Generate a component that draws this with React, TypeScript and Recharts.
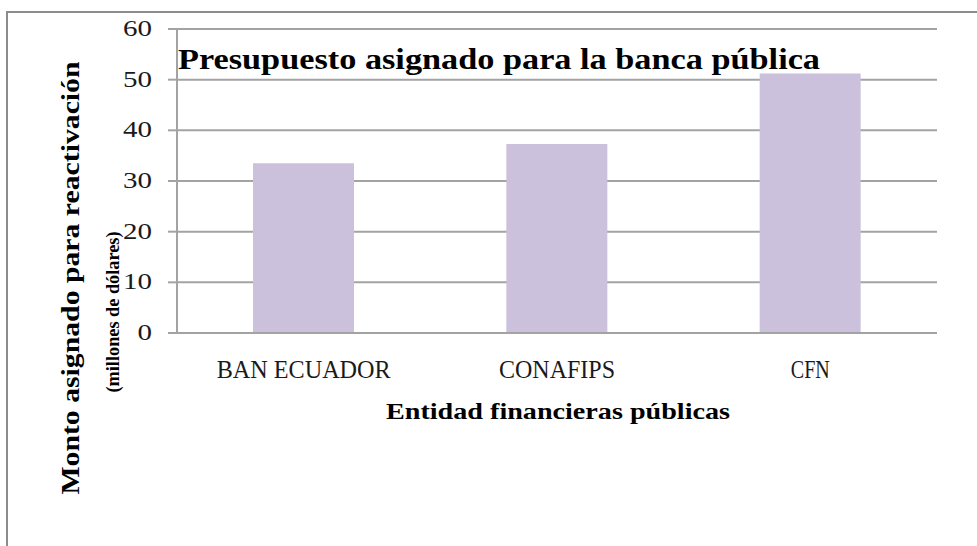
import React from "react";
import { BarChart, Bar, XAxis, YAxis, CartesianGrid } from "recharts";

const categories = ["BAN ECUADOR", "CONAFIPS", "CFN"];
const values = [33.5, 37.3, 51.2];
const yTicks = [0, 10, 20, 30, 40, 50, 60];
const title = "Presupuesto asignado para la banca pública";
const yTitle = "Monto asignado para  reactivación";
const ySubTitle = "(millones de dólares)";
const xTitle = "Entidad financieras públicas";

const data = categories.map((c, i) => ({ name: c, value: values[i] }));

const SERIF = "'Liberation Serif', 'DejaVu Serif', serif";
const GRID = "#a3a3a3";
const BAR = "#cbc1dc";

const tickWidths: Record<string, number> = { "BAN ECUADOR": 174, CONAFIPS: 116, CFN: 39 };

const XTick = (props: any) => {
  const { x, payload } = props;
  const label = String(payload.value);
  return (
    <text
      x={x}
      y={378}
      textAnchor="middle"
      fontFamily={SERIF}
      fontSize={25}
      fill="#1a1a1a"
      textLength={tickWidths[label]}
      lengthAdjust="spacingAndGlyphs"
    >
      {label}
    </text>
  );
};

const YTick = (props: any) => {
  const { x, y, payload } = props;
  return (
    <text
      x={x}
      y={y + 7}
      textAnchor="end"
      fontFamily={SERIF}
      fontSize={23}
      fill="#1a1a1a"
      textLength={String(payload.value).length * 14.5}
      lengthAdjust="spacingAndGlyphs"
    >
      {payload.value}
    </text>
  );
};

const Labels = () => (
  <g>
    <text
      x={178}
      y={69}
      fontFamily={SERIF}
      fontWeight="bold"
      fontSize={29}
      fill="#000"
      textLength={642}
      lengthAdjust="spacingAndGlyphs"
    >
      {title}
    </text>
    <text
      x={79}
      y={278}
      transform="rotate(-90, 79, 278)"
      textAnchor="middle"
      fontFamily={SERIF}
      fontWeight="bold"
      fontSize={25}
      fill="#000"
      textLength={433}
      lengthAdjust="spacingAndGlyphs"
    >
      {yTitle}
    </text>
    <text
      x={119}
      y={312}
      transform="rotate(-90, 119, 312)"
      textAnchor="middle"
      fontFamily={SERIF}
      fontWeight="bold"
      fontSize={19}
      fill="#000"
      textLength={161}
      lengthAdjust="spacingAndGlyphs"
    >
      {ySubTitle}
    </text>
    <text
      x={558}
      y={419}
      textAnchor="middle"
      fontFamily={SERIF}
      fontWeight="bold"
      fontSize={23}
      fill="#000"
      textLength={344}
      lengthAdjust="spacingAndGlyphs"
    >
      {xTitle}
    </text>
  </g>
);

export default function App() {
  return (
    <div style={{ position: "absolute", left: 0, top: 0, width: 977, height: 546, background: "#fff" }}>
      <div
        style={{
          position: "absolute",
          left: 6,
          top: 11,
          width: 971,
          height: 535,
          borderTop: "2px solid #8c8c8c",
          borderLeft: "2px solid #8c8c8c",
          boxSizing: "border-box",
        }}
      />
      <div style={{ position: "absolute", left: 0, top: 0 }}>
        <BarChart
          width={977}
          height={546}
          data={data}
          margin={{ top: 29, right: 40, left: 0, bottom: 0 }}
          barSize={101}
        >
          <CartesianGrid vertical={false} stroke={GRID} strokeWidth={2} />
          <XAxis
            dataKey="name"
            height={213}
            tickLine={false}
            axisLine={{ stroke: GRID, strokeWidth: 2 }}
            tick={<XTick />}
            interval={0}
          />
          <YAxis
            width={177}
            domain={[0, 60]}
            ticks={yTicks}
            interval={0}
            tickSize={9}
            tickMargin={16}
            axisLine={{ stroke: GRID, strokeWidth: 2 }}
            tickLine={{ stroke: GRID, strokeWidth: 2 }}
            tick={<YTick />}
            label={{ content: () => <Labels /> }}
          />
          <Bar dataKey="value" fill={BAR} isAnimationActive={false} />
        </BarChart>
      </div>
    </div>
  );
}
